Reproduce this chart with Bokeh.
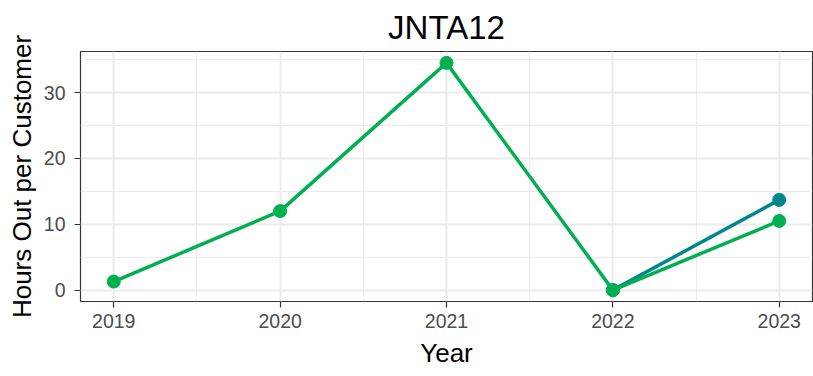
from bokeh.plotting import figure
from bokeh.models import FixedTicker, Range1d
from bokeh.embed import file_html
from bokeh.resources import INLINE

years_green = [2019, 2020, 2021, 2022, 2023]
hours_green = [1.3, 12.0, 34.5, 0.0, 10.5]
years_teal = [2022, 2023]
hours_teal = [0.0, 13.7]
x_ticks = [2019, 2020, 2021, 2022, 2023]
y_ticks = [0, 10, 20, 30]

FONT = "Liberation Sans"
GREEN = "#00B050"
TEAL = "#00868B"

p = figure(width=813, height=376, output_backend="svg", toolbar_location=None,
           x_range=Range1d(2018.8, 2023.2), y_range=Range1d(-1.725, 36.225),
           title="JNTA12", min_border_left=80, min_border_right=1,
           min_border_bottom=75, min_border_top=0)

p.title.align = "center"
p.title.text_font = FONT
p.title.text_font_size = "33px"
p.title.text_font_style = "normal"
p.title.text_color = "#000000"
p.title.standoff = 12

p.outline_line_color = "#333333"
p.outline_line_width = 1.2
p.background_fill_color = "white"
p.border_fill_color = "white"

p.xaxis.ticker = FixedTicker(ticks=x_ticks, minor_ticks=[2019.5, 2020.5, 2021.5, 2022.5])
p.yaxis.ticker = FixedTicker(ticks=y_ticks, minor_ticks=[5, 15, 25, 35])

for g in (p.xgrid, p.ygrid):
    g.grid_line_color = "#EBEBEB"
    g.grid_line_width = 2
    g.minor_grid_line_color = "#EBEBEB"
    g.minor_grid_line_width = 1

for ax in (p.xaxis, p.yaxis):
    ax.axis_line_color = None
    ax.major_tick_line_color = "#333333"
    ax.major_tick_line_width = 1.2
    ax.major_tick_out = 6
    ax.major_tick_in = 0
    ax.minor_tick_line_color = None
    ax.major_label_text_font = FONT
    ax.major_label_text_font_size = "19.5px"
    ax.major_label_text_color = "#4D4D4D"
    ax.axis_label_text_font = FONT
    ax.axis_label_text_font_size = "26px"
    ax.axis_label_text_font_style = "normal"
    ax.axis_label_text_color = "#000000"

p.xaxis.axis_label = "Year"
p.yaxis.axis_label = "Hours Out per Customer"
p.xaxis.major_label_standoff = 6
p.xaxis.axis_label_standoff = 7
p.yaxis.major_label_standoff = 9
p.yaxis.axis_label_standoff = 4

p.line(years_teal, hours_teal, line_color=TEAL, line_width=3.5)
p.scatter(years_teal, hours_teal, size=13, fill_color=TEAL, line_color=TEAL)
p.line(years_green, hours_green, line_color=GREEN, line_width=3.5)
p.scatter(years_green, hours_green, size=13, fill_color=GREEN, line_color=GREEN)

open("out.html", "w").write(file_html(p, INLINE))
